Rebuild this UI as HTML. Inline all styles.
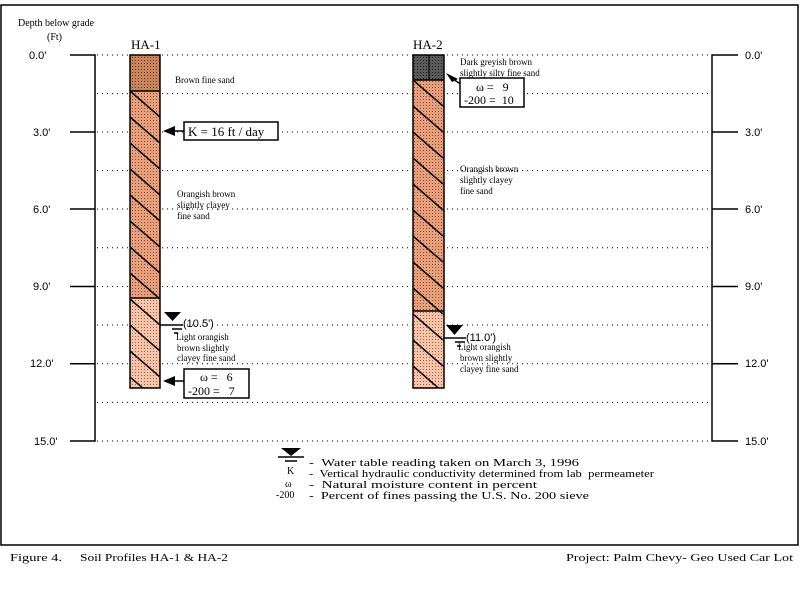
<!DOCTYPE html>
<html><head><style>body{margin:0;background:#fff}svg{display:block}</style></head><body>
<svg width="800" height="600" viewBox="0 0 800 600" xmlns="http://www.w3.org/2000/svg" font-family="Liberation Serif, serif">
<defs>
<pattern id="dots1" width="3" height="3" patternUnits="userSpaceOnUse"><rect width="3" height="3" fill="#e8a07c"/><rect width="1" height="1" fill="#8a4a30"/></pattern>
<pattern id="dots2" width="3" height="3" patternUnits="userSpaceOnUse"><rect width="3" height="3" fill="#f6c4a8"/><rect width="1" height="1" fill="#a0604a"/></pattern>
<pattern id="dots0" width="3" height="3" patternUnits="userSpaceOnUse"><rect width="3" height="3" fill="#c8845c"/><rect width="1" height="1" fill="#6a3a20"/></pattern>
<pattern id="dotsg" width="3" height="3" patternUnits="userSpaceOnUse"><rect width="3" height="3" fill="#5a5a5a"/><rect width="1" height="1" fill="#222"/></pattern>
<pattern id="hatch" width="30" height="26" patternUnits="userSpaceOnUse"><line x1="0" y1="0" x2="30" y2="26" stroke="#000" stroke-width="1.5"/><line x1="-30" y1="0" x2="0" y2="26" stroke="#000" stroke-width="1.5"/><line x1="30" y1="0" x2="60" y2="26" stroke="#000" stroke-width="1.5"/></pattern>
</defs>
<rect x="1" y="5" width="797" height="540" fill="none" stroke="#000" stroke-width="1.5"/>
<text x="18" y="26" font-size="10">Depth below grade</text>
<text x="47" y="40" font-size="10">(Ft)</text>
<g stroke="#000" stroke-width="1" stroke-dasharray="1,4">
<line x1="97" y1="55" x2="712" y2="55"/><line x1="97" y1="93.6" x2="712" y2="93.6"/><line x1="97" y1="132" x2="712" y2="132"/><line x1="97" y1="170.6" x2="712" y2="170.6"/><line x1="97" y1="209" x2="712" y2="209"/><line x1="97" y1="247.8" x2="712" y2="247.8"/><line x1="97" y1="286.5" x2="712" y2="286.5"/><line x1="97" y1="325" x2="712" y2="325"/><line x1="97" y1="363.8" x2="712" y2="363.8"/><line x1="97" y1="402.4" x2="712" y2="402.4"/><line x1="97" y1="441" x2="712" y2="441"/>
</g>
<g stroke="#000" stroke-width="1.5" fill="none">
<path d="M70 55H95V441H70"/><path d="M70 132H95M70 209H95M70 286.5H95M70 363.8H95"/>
<path d="M738 55H712V441H738"/><path d="M712 132H738M712 209H738M712 286.5H738M712 363.8H738"/>
</g>
<g font-family="Liberation Sans, sans-serif" font-size="11">
<text x="29" y="59">0.0'</text><text x="33" y="136">3.0'</text><text x="33" y="213">6.0'</text><text x="33" y="290">9.0'</text><text x="30" y="367">12.0'</text><text x="34" y="445">15.0'</text>
<text x="745" y="59">0.0'</text><text x="745" y="136">3.0'</text><text x="745" y="213">6.0'</text><text x="745" y="290">9.0'</text><text x="745" y="367">12.0'</text><text x="745" y="445">15.0'</text>
</g>
<text x="131" y="49" font-size="13">HA-1</text>
<text x="413" y="49" font-size="13">HA-2</text>
<rect x="130" y="55" width="30" height="36" fill="url(#dots0)"/>
<rect x="130" y="91" width="30" height="207" fill="url(#dots1)"/>
<rect x="130" y="298" width="30" height="90" fill="url(#dots2)"/>
<svg x="130" y="91" width="30" height="297"><rect width="30" height="297" fill="url(#hatch)"/></svg>
<rect x="130" y="55" width="30" height="333" fill="none" stroke="#000" stroke-width="1.5"/>
<line x1="130" y1="91" x2="160" y2="91" stroke="#000" stroke-width="1.5"/>
<line x1="130" y1="298" x2="160" y2="298" stroke="#000" stroke-width="1.5"/>
<rect x="413" y="55" width="31" height="25" fill="url(#dotsg)"/>
<line x1="429" y1="55" x2="429" y2="80" stroke="#000"/>
<rect x="413" y="80" width="31" height="231" fill="url(#dots1)"/>
<rect x="413" y="311" width="31" height="77" fill="url(#dots2)"/>
<svg x="413" y="80" width="31" height="308"><rect width="31" height="308" fill="url(#hatch)"/></svg>
<rect x="413" y="55" width="31" height="333" fill="none" stroke="#000" stroke-width="1.5"/>
<line x1="413" y1="80" x2="444" y2="80" stroke="#000" stroke-width="1.5"/>
<line x1="413" y1="311" x2="444" y2="311" stroke="#000" stroke-width="1.5"/>
<g font-size="9">
<text x="175" y="83">Brown fine sand</text>
<text x="177" y="197">Orangish brown</text><text x="177" y="208">slightly clayey</text><text x="177" y="219">fine sand</text>
<text x="460" y="65">Dark greyish brown</text><text x="460" y="76">slightly silty fine sand</text>
<text x="460" y="172">Orangish brown</text><text x="460" y="183">slightly clayey</text><text x="460" y="194">fine sand</text>
<text x="176" y="340">Light orangish</text><text x="177" y="351">brown slightly</text><text x="177" y="361">clayey fine sand</text>
<text x="458" y="350">Light orangish</text><text x="460" y="361">brown slightly</text><text x="460" y="372">clayey fine sand</text>
</g>
<path d="M163 131L175 126V136Z" fill="#000"/><line x1="170" y1="131" x2="184" y2="131" stroke="#000" stroke-width="1.5"/>
<rect x="184" y="122" width="94" height="18" fill="#fff" stroke="#000" stroke-width="1.5"/>
<text x="188" y="136" font-size="13">K = 16 ft / day</text>
<path d="M163 381L175 376V386Z" fill="#000"/><line x1="170" y1="381" x2="184" y2="381" stroke="#000" stroke-width="1.5"/>
<rect x="184" y="369" width="65" height="29" fill="#fff" stroke="#000" stroke-width="1.5"/>
<text x="200" y="381" font-size="12">ω =&#160;&#160;&#160;6</text><text x="188" y="395" font-size="12">-200 =&#160;&#160;&#160;7</text>
<path d="M446 73L458 79L452 82Z" fill="#000"/><line x1="450" y1="77" x2="462" y2="85" stroke="#000" stroke-width="1.5"/>
<rect x="460" y="78" width="64" height="29" fill="#fff" stroke="#000" stroke-width="1.5"/>
<text x="476" y="91" font-size="12">ω =&#160;&#160;&#160;9</text><text x="464" y="104" font-size="12">-200 =&#160;&#160;10</text>
<g stroke="#000" stroke-width="1.5">
<line x1="160" y1="325" x2="183" y2="325"/><line x1="172" y1="329" x2="182" y2="329"/><line x1="174" y1="333" x2="178" y2="333"/>
<line x1="444" y1="338" x2="466" y2="338"/><line x1="455" y1="342" x2="465" y2="342"/><line x1="457" y1="346" x2="461" y2="346"/>
</g>
<path d="M164 312H181L172.5 321Z" fill="#000"/><path d="M446 325H463L454.5 335Z" fill="#000"/>
<text x="183" y="327" font-size="11" font-family="Liberation Sans, sans-serif">(10.5')</text>
<text x="466" y="341" font-size="11" font-family="Liberation Sans, sans-serif">(11.0')</text>
<path d="M281 448H301L291 456Z" fill="#000"/>
<g stroke="#000" stroke-width="1.5"><line x1="278" y1="457" x2="304" y2="457"/><line x1="285" y1="461" x2="297" y2="461"/></g>
<g font-size="10">
<text x="287" y="474">K</text><text x="285" y="487">ω</text><text x="276" y="498">-200</text>
<text x="309" y="466" textLength="270" lengthAdjust="spacingAndGlyphs">-&#160;&#160;Water table reading taken on March 3, 1996</text>
<text x="309" y="477" textLength="345" lengthAdjust="spacingAndGlyphs">-&#160;&#160;Vertical hydraulic conductivity determined from lab&#160;&#160;permeameter</text>
<text x="309" y="488" textLength="228" lengthAdjust="spacingAndGlyphs">-&#160;&#160;Natural moisture content in percent</text>
<text x="309" y="499" textLength="280" lengthAdjust="spacingAndGlyphs">-&#160;&#160;Percent of fines passing the U.S. No. 200 sieve</text>
</g>
<text x="10" y="561" font-size="11" textLength="52" lengthAdjust="spacingAndGlyphs">Figure 4.</text>
<text x="80" y="561" font-size="11" textLength="148" lengthAdjust="spacingAndGlyphs">Soil Profiles HA-1 &amp; HA-2</text>
<text x="566" y="561" font-size="11" textLength="227" lengthAdjust="spacingAndGlyphs">Project: Palm Chevy- Geo Used Car Lot</text>
</svg>
</body></html>
